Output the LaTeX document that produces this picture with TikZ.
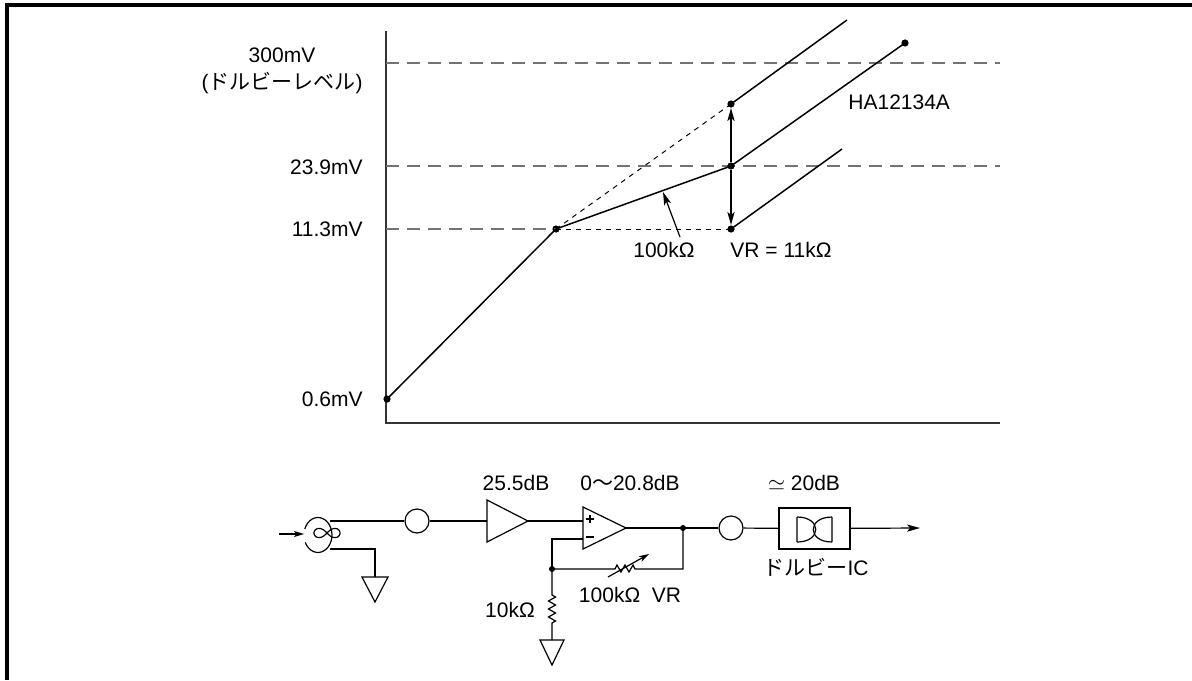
\documentclass[tikz,border=0pt]{standalone}
\usepackage{fontspec}
\setmainfont{Liberation Sans}
\newfontfamily\jp{Noto Sans CJK JP}
\usetikzlibrary{arrows.meta}
\tikzset{
 lbl/.style={inner sep=0pt, font=\fontsize{10.5}{12.6}\selectfont},
 curve/.style={line width=0.75pt},
 axisline/.style={line width=1pt, draw=black!80},
 guide/.style={line width=0.75pt, draw=black!55, dash pattern=on 6.5pt off 4pt},
 fine/.style={line width=0.5pt, dash pattern=on 2.5pt off 2.5pt},
 wire/.style={line width=0.6pt},
 dot/.style={circle, fill, inner sep=0pt, minimum size=3.6pt},
 sdot/.style={circle, fill, inner sep=0pt, minimum size=3pt},
 tip/.style={-{Stealth[length=6.5pt,width=3.6pt,inset=1.5pt]}},
 stip/.style={-{Stealth[length=5pt,width=3pt,inset=1.2pt]}},
 ring/.style={draw, circle, wire, minimum size=12pt, inner sep=0pt},
}
\begin{document}
\begin{tikzpicture}[x=0.5pt,y=-0.5pt]
\useasboundingbox (0,0) rectangle (1192,680);
% frame
\draw[line width=2pt] (7,680) -- (7,5) -- (1192,5);

% ---------------- chart ----------------
\coordinate (ytop) at (386,31);
\coordinate (orig) at (386,423);
\coordinate (xend) at (1000,423);
\draw[axisline] (ytop) -- (orig) -- (xend);

\coordinate (g300a) at (386,63);  \coordinate (g300b) at (1000,63);
\coordinate (g239a) at (386,166); \coordinate (g239b) at (1000,166);
\coordinate (g113a) at (386,229);
\draw[guide] (g300a) -- (g300b);
\draw[guide] (g239a) -- (g239b);

\node[dot] (p0) at (387,399) {};
\node[dot] (knee) at (556,229) {};
\node[dot] (top) at (731,104) {};
\node[dot] (mid) at (731,166) {};
\node[dot] (bot) at (731,229) {};
\node[dot] (pend) at (905,43) {};
\coordinate (topend) at (847,20);
\coordinate (botend) at (842,149);

\draw[guide] (g113a) -- (knee.center);
\draw[fine] (knee.center) -- (bot.center);
\draw[fine] (knee.center) -- (top.center);
\draw[curve] (p0.center) -- (knee.center) -- (mid.center) -- (pend.center);
\draw[curve] (top.center) -- (topend);
\draw[curve] (bot.center) -- (botend);
\draw[curve, tip] (mid) -- (top);
\draw[curve, tip] (mid) -- (bot);

\coordinate (a100s) at (680,237);
\coordinate (a100t) at (663,192);
\draw[wire, tip] (a100s) -- (a100t);

\node[lbl, align=center] (l300) at (282,55) {300mV};
\node[lbl] (ldol) at (282,83) {(\jp ドルビーレベル\rmfamily)};
\node[lbl, anchor=east] (l239) at (363,167) {23.9mV};
\node[lbl, anchor=east] (l113) at (363,229) {11.3mV};
\node[lbl, anchor=east] (l06) at (363,399) {0.6mV};
\node[lbl, anchor=west] (lha) at (848,102) {HA12134A};
\node[lbl] (l100) at (664,250) {100kΩ};
\node[lbl, anchor=west] (lvr) at (730,250) {VR = 11kΩ};

% ---------------- circuit ----------------
% input arrow and head
\coordinate (inA) at (279,534);
\coordinate (inB) at (304,534);
\draw[wire, stip] (inA) -- (inB);
\draw[wire] (304.8,529) arc[start angle=200, end angle=515, x radius=14, y radius=17.5];
\draw[wire] plot[domain=0:360, samples=72, smooth, variable=\t]
  ({327+13*cos(\t)/(1+sin(\t)^2)},{533+13*sin(\t)*cos(\t)/(1+sin(\t)^2)});

\coordinate (hTop) at (330,521);
\coordinate (hBot) at (330,549);
\coordinate (gnd1) at (375,577);
\draw[wire] (hBot) -- (375,549) -- (gnd1);
\draw[wire] (362,577) -- (388,577) -- (375,602) -- cycle;

\node[ring] (c1) at (417,521) {};
\draw[wire] (hTop) -- (c1);

% amp 1
\coordinate (a1in) at (487,521);
\coordinate (a1out) at (528,521);
\draw[wire] (487,500) -- (a1out) -- (487,542) -- cycle;
\draw[wire] (c1) -- (a1in);

% op amp
\coordinate (opP) at (583,521);
\coordinate (opN) at (583,539);
\coordinate (opOut) at (626,528);
\draw[wire] (583,507) -- (opOut) -- (583,549) -- cycle;
\draw[wire] (586,519) -- (594,519) (590,515) -- (590,523);
\draw[wire] (586,537) -- (594,537);
\draw[wire] (a1out) -- (opP);

\node[sdot] (n1) at (552,569) {};
\node[sdot] (n2) at (683,528) {};
\draw[wire] (opN) -- (552,539) -- (n1.center);
\draw[wire] (n1.center) -- (615,569) -- (617,565) -- (621,572) -- (625,565) -- (629,572) -- (633,565) -- (635,569) -- (683,569) -- (n2.center);
\coordinate (vrA) at (608,577);
\coordinate (vrB) at (649,554);
\draw[wire, stip] (vrA) -- (vrB);
\draw[wire] (opOut) -- (n2.center);

% 10k resistor to ground
\coordinate (gnd2) at (552,640);
\draw[wire] (n1.center) -- (552,595) -- (555.5,597) -- (548.5,601) -- (555.5,605) -- (548.5,609) -- (555.5,613) -- (548.5,617) -- (555.5,621) -- (552,623) -- (gnd2);
\draw[wire] (540,640) -- (564,640) -- (552,665) -- cycle;

% second ring, dolby block, output
\node[ring] (c2) at (731,528) {};
\draw[wire] (n2.center) -- (c2);
\node[draw, wire, minimum width=35.5pt, minimum height=20.5pt, inner sep=0pt] (dolby) at (814.5,528.5) {};
\draw[wire] (c2) -- (dolby);
\draw[wire] (797,517) -- (797,542) (797,517) .. controls (822,517) and (822,542) .. (797,542);
\draw[wire] (832,517) -- (832,542) (832,517) .. controls (807,517) and (807,542) .. (832,542);
\coordinate (outEnd) at (920,528);
\draw[wire, tip] (dolby) -- (outEnd);

% circuit labels
\node[lbl] (l255) at (516,483) {25.5dB};
\node[lbl] (l208) at (630,483) {0{\jp 〜}20.8dB};
\node[lbl] (l20) at (804,483) {$\simeq$ 20dB};
\node[lbl] (lic) at (816,567) {{\jp ドルビー}IC};
\node[lbl] (lvr2) at (630,595) {100kΩ\ \ VR};
\node[lbl] (l10k) at (510,610) {10kΩ};
\end{tikzpicture}
\end{document}
